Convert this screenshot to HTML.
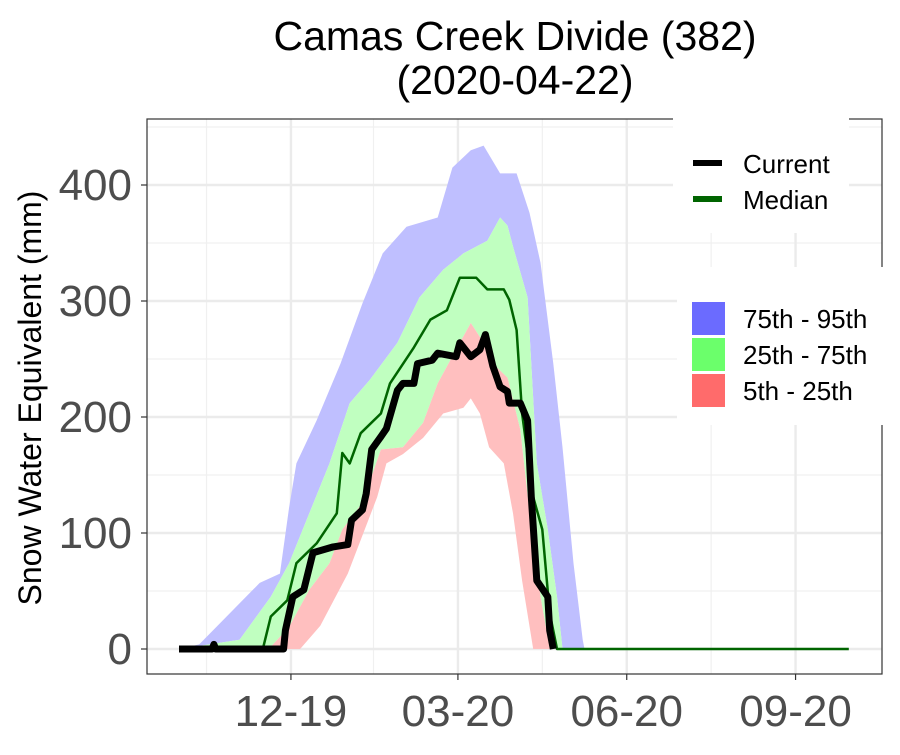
<!DOCTYPE html>
<html><head><meta charset="utf-8"><style>
body{margin:0;background:#fff}
svg text{font-family:"Liberation Sans",sans-serif}
</style></head><body>
<svg id="c" width="900" height="750" xmlns="http://www.w3.org/2000/svg">
<text x="515" y="50" font-size="41" text-anchor="middle">Camas Creek Divide (382)</text>
<text x="515" y="94" font-size="41" text-anchor="middle">(2020-04-22)</text>
<text transform="translate(41,398) rotate(-90)" font-size="32" text-anchor="middle">Snow Water Equivalent (mm)</text>
<g id="grid"></g><g id="bands"></g><g id="lines"></g>
<rect x="147" y="119" width="735" height="555" fill="none" stroke="#333" stroke-width="1.2"/>
<g id="axes"></g>
<g>
<rect x="673" y="112" width="176" height="121" fill="#fff"/>
<line x1="693" y1="163" x2="722" y2="163" stroke="#000" stroke-width="6"/>
<text x="743" y="173" font-size="26">Current</text>
<line x1="693" y1="199" x2="722" y2="199" stroke="#006400" stroke-width="6"/>
<text x="743" y="209" font-size="26">Median</text>
</g>
<g>
<rect x="677" y="267" width="223" height="158" fill="#fff"/>
<rect x="692" y="302" width="33" height="33" fill="#6b6bff"/>
<rect x="692" y="338" width="33" height="33" fill="#6bff6b"/>
<rect x="692" y="374" width="33" height="33" fill="#ff6b6b"/>
<text x="743" y="328" font-size="26">75th - 95th</text>
<text x="743" y="364" font-size="26">25th - 75th</text>
<text x="743" y="400" font-size="26">5th - 25th</text>
</g>
</svg>
<script>
// day of water year (0 = Oct 1)
const p95Days=[0,11,44,55,60,64,75,88,100,111,124,141,149,159,166,175,184,191,197,204,209,215,220,221];
const p95Vals=[0,4,57,65,122,160,197,246,298,341,364,372,415,430,434,410,410,376,333,246,174,74,8,0];
const p75Days=[0,33,50,60,71,82,93,104,119,131,144,155,168,175,179,182,190,195,201,206,209];
const p75Vals=[0,8,45,74,117,160,212,232,264,303,327,341,352,372,365,347,303,160,103,45,0];
const p25Days=[0,50,60,71,82,89,100,110,122,133,141,153,159,164,171,179,186,191,197,202];
const p25Vals=[0,2,19,51,74,103,126,172,174,195,229,264,281,269,246,234,189,117,45,0];
const p5Days=[0,66,77,92,108,113,122,133,144,155,159,164,169,177,182,187,193];
const p5Vals=[0,0,20,65,131,160,168,182,203,208,216,203,174,160,117,59,0];
const medDays=[0,46,50,59,64,75,86,89,93,99,110,115,128,137,146,153,162,168,177,180,184,187,193,198,202,206,365];
const medVals=[0,2,28,42,74,91,117,169,160,186,203,229,260,284,292,320,320,310,310,301,275,203,131,103,31,0,0];
const curDays=[0,18,19,20,57,58,62,68,73,84,92,94,100,102,105,110,113,119,122,128,130,138,141,151,153,159,164,167,171,175,179,180,186,190,192,195,201,202,204];
const curVals=[0,0,4,0,0,16,45,51,83,88,90,111,120,134,172,183,190,223,229,229,246,249,255,252,264,252,258,271,244,226,222,212,212,197,131,59,45,16,0];
const yTicks=[0,100,200,300,400];
const xTickDays=[61,152,244,336];
const xTickLabels=["12-19","03-20","06-20","09-20"];
const NS="http://www.w3.org/2000/svg";
const X=d=>179+d*1.835, Y=v=>649-v*1.16;
function mk(tag,attrs,parent){const e=document.createElementNS(NS,tag);for(const k in attrs)e.setAttribute(k,attrs[k]);parent.appendChild(e);return e;}
const grid=document.getElementById('grid'),bands=document.getElementById('bands'),lines=document.getElementById('lines'),axes=document.getElementById('axes');
mk('rect',{x:147,y:119,width:735,height:555,fill:'#fff'},grid);
for(const v of [50,150,250,350,450]){const g=mk('line',{x1:147,x2:882,y1:Y(v),y2:Y(v),stroke:'#f0f0f0','stroke-width':1.2},grid);

}
for(const d of [15,106,198,290]){const g=mk('line',{x1:X(d),x2:X(d),y1:119,y2:674,stroke:'#f0f0f0','stroke-width':1.2},grid);

}
yTicks.forEach(v=>{const g=mk('line',{x1:147,x2:882,y1:Y(v),y2:Y(v),stroke:'#ebebeb','stroke-width':2.4},grid);


mk('line',{x1:141,x2:147,y1:Y(v),y2:Y(v),stroke:'#333','stroke-width':1.2},axes);
const t=mk('text',{x:132,y:Y(v)+15,'font-size':44,'text-anchor':'end',fill:'#4d4d4d'},axes);t.textContent=v;

});
xTickDays.forEach((d,i)=>{const g=mk('line',{x1:X(d),x2:X(d),y1:119,y2:674,stroke:'#ebebeb','stroke-width':2.4},grid);


mk('line',{x1:X(d),x2:X(d),y1:674,y2:680,stroke:'#333','stroke-width':1.2},axes);
const t=mk('text',{x:X(d),y:726,'font-size':44,'text-anchor':'middle',fill:'#4d4d4d'},axes);t.textContent=xTickLabels[i];

});
function pts(ds,vs){return ds.map((d,i)=>X(d).toFixed(1)+','+Y(vs[i]).toFixed(1));}
function band(dU,vU,dL,vL,fill,name){const p=pts(dU,vU).concat(pts(dL,vL).reverse());
const e=mk('polygon',{points:p.join(' '),fill:fill},bands);

}
band(p95Days,p95Vals,p75Days,p75Vals,'#bfbfff','band-75-95');
band(p75Days,p75Vals,p25Days,p25Vals,'#c0ffc0','band-25-75');
band(p25Days,p25Vals,p5Days,p5Vals,'#ffbfbf','band-5-25');
const m=mk('polyline',{points:pts(medDays,medVals).join(' '),fill:'none',stroke:'#006400','stroke-width':2.5,'stroke-linejoin':'round'},lines);


const c=mk('polyline',{points:pts(curDays,curVals).join(' '),fill:'none',stroke:'#000','stroke-width':7,'stroke-linejoin':'round'},lines);


</script>
</body></html>
